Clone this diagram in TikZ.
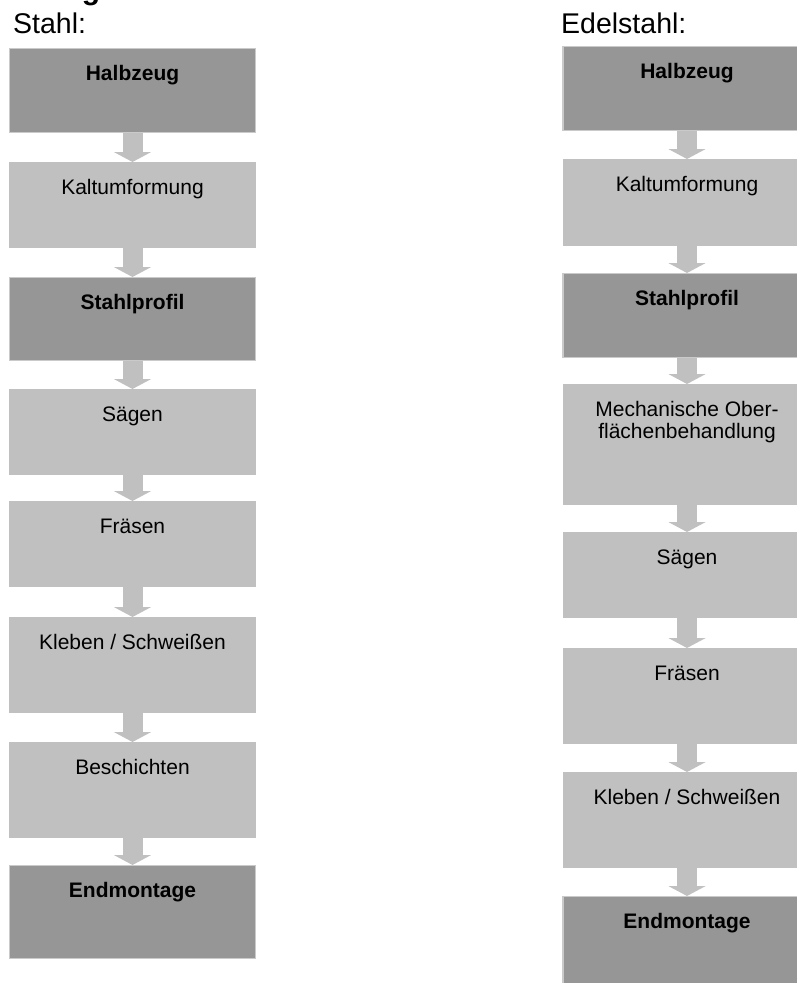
\documentclass[tikz,border=0pt]{standalone}
\usepackage{fontspec}
\setmainfont{Liberation Sans}
\usetikzlibrary{arrows.meta}
\definecolor{boxdark}{RGB}{150,150,150}
\definecolor{boxlight}{RGB}{192,192,192}
\definecolor{boxedge}{RGB}{202,202,202}

\begin{document}
\begin{tikzpicture}[x = 1pt, y = -1pt,
    stepbox/.style = {shape = rectangle, anchor = north, fill = boxlight, draw = boxlight, inner xsep = 0pt, inner ysep = 0pt, text height = 32pt, align = center, font = \fontsize{21}{22}\selectfont},
    mainbox/.style = {stepbox, fill = boxdark, draw = boxedge, line width = 1.2pt, font = \bfseries\fontsize{21}{22}\selectfont},
    leftbox/.style = {minimum width = 246pt},
    rightbox/.style = {minimum width = 248pt},
    title/.style = {anchor = base west, inner sep = 0pt, font = \fontsize{28.5}{30}\selectfont},
    flow/.style = {draw = boxlight, line width = 20pt, -{Triangle[width = 37pt, length = 10pt]}}]
    \clip (0,0) rectangle (797,983);
    \node (head) [anchor = base, font = \bfseries\fontsize{30}{36}\selectfont] at (91,-1) {g};
    \node (stahl) [title] at (13,33) {Stahl:};
    \node (edel) [title] at (561,33) {Edelstahl:};

    \node (L1) [mainbox, leftbox, text depth = 52pt] at (132.5,48) {Halbzeug};
    \node (L2) [stepbox, leftbox, text depth = 53pt] at (132.5,162) {Kaltumformung};
    \node (L3) [mainbox, leftbox, text depth = 51pt] at (132.5,277) {Stahlprofil};
    \node (L4) [stepbox, leftbox, text depth = 53pt] at (132.5,389) {Sägen};
    \node (L5) [stepbox, leftbox, text depth = 53pt] at (132.5,501) {Fräsen};
    \node (L6) [stepbox, leftbox, text depth = 63pt] at (132.5,617) {Kleben / Schweißen};
    \node (L7) [stepbox, leftbox, text depth = 63pt] at (132.5,742) {Beschichten};
    \node (L8) [mainbox, leftbox, text depth = 61pt] at (132.5,865) {Endmontage};

    \node (R1) [mainbox, rightbox, text depth = 52pt] at (687,46) {Halbzeug};
    \node (R2) [stepbox, rightbox, text depth = 54pt] at (687,159) {Kaltumformung};
    \node (R3) [mainbox, rightbox, text depth = 52pt] at (687,273) {Stahlprofil};
    \node (R4) [stepbox, rightbox, text height = 54pt, text depth = 66pt] at (687,384) {Mechanische Ober-\\flächenbehandlung};
    \node (R5) [stepbox, rightbox, text depth = 53pt] at (687,532) {Sägen};
    \node (R6) [stepbox, rightbox, text depth = 63pt] at (687,648) {Fräsen};
    \node (R7) [stepbox, rightbox, text depth = 63pt] at (687,772) {Kleben / Schweißen};
    \node (R8) [mainbox, rightbox, text depth = 63pt] at (687,896) {Endmontage};

    \draw [flow] (L1) -- (L2);
    \draw [flow] (L2) -- (L3);
    \draw [flow] (L3) -- (L4);
    \draw [flow] (L4) -- (L5);
    \draw [flow] (L5) -- (L6);
    \draw [flow] (L6) -- (L7);
    \draw [flow] (L7) -- (L8);

    \draw [flow] (R1) -- (R2);
    \draw [flow] (R2) -- (R3);
    \draw [flow] (R3) -- (R4);
    \draw [flow] (R4) -- (R5);
    \draw [flow] (R5) -- (R6);
    \draw [flow] (R6) -- (R7);
    \draw [flow] (R7) -- (R8);
\end{tikzpicture}
\end{document}
